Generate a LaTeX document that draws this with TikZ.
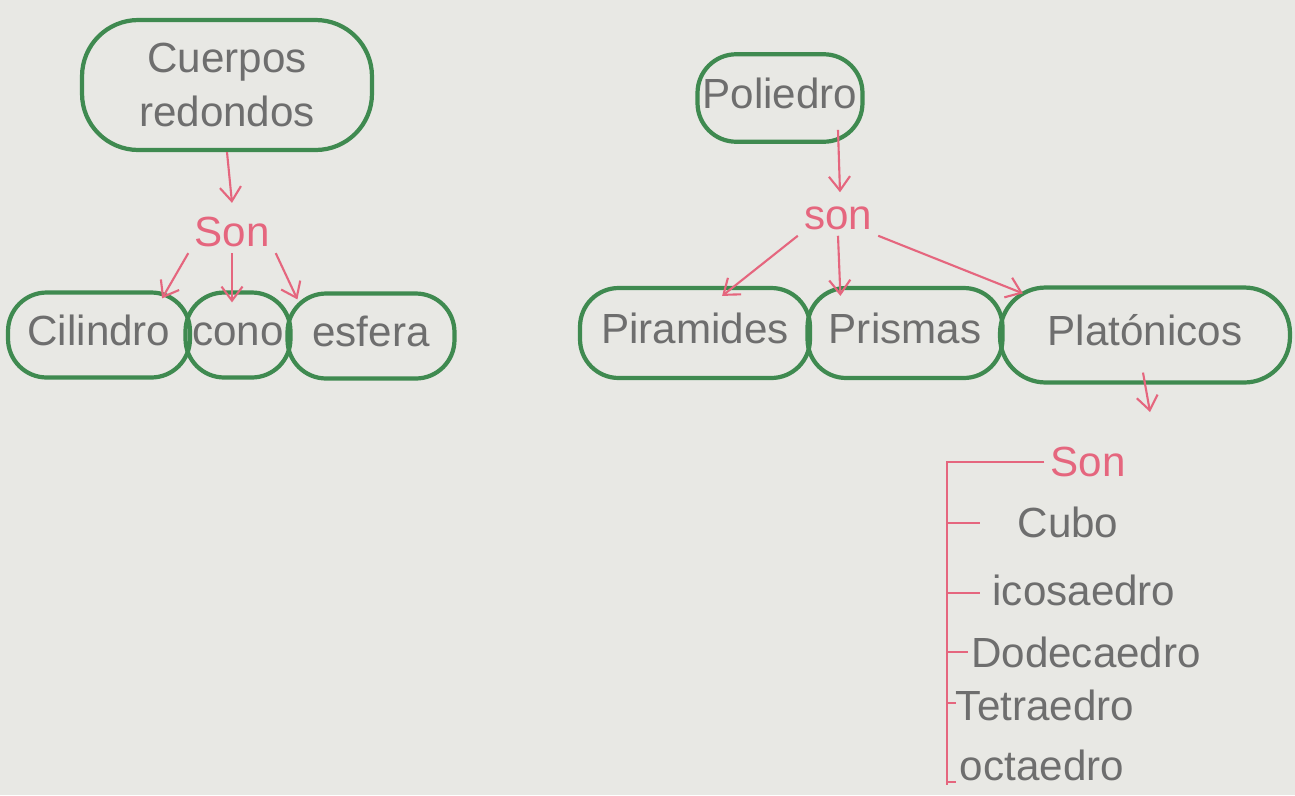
\documentclass[tikz,border=0pt]{standalone}
\usepackage{fontspec}
\setmainfont{Liberation Sans}
\usetikzlibrary{arrows.meta,calc,positioning}
\definecolor{verde}{HTML}{3F8A50}
\definecolor{rosa}{HTML}{E5667E}
\definecolor{lapiz}{HTML}{6E6E6E}
\definecolor{papel}{HTML}{E8E8E4}

\begin{document}
\begin{tikzpicture}[x=0.02cm,y=-0.02cm,
  >={Straight Barb[length=8pt,width=12pt]},
  caja/.style={draw=verde,line width=2.4pt,rounded corners=22pt,text=lapiz,
    font=\fontsize{24}{31}\selectfont,inner sep=2pt,align=center},
  linea/.style={text height=17pt,text depth=5pt},
  enlace/.style={text=rosa,font=\fontsize{24}{28}\selectfont},
  flecha/.style={->,rosa,line width=1.2pt},
  tipo/.style={text=lapiz,font=\fontsize{24}{28}\selectfont}]
\fill[papel] (0,0) rectangle (1295,795);
% cuerpos redondos
\node[caja,rounded corners=32pt,minimum width=5.8cm,minimum height=2.6cm] (cuerpos) at (227,85) {Cuerpos\\redondos};
\node[enlace] (sonA) at (232,232) {Son};
\node[caja,linea,minimum width=3.64cm,minimum height=1.7cm] (cil) at (99,335) {Cilindro};
\node[caja,linea,minimum width=2.1cm,minimum height=1.7cm] (cono) at (238,335) {cono};
\node[caja,linea,minimum width=3.34cm,minimum height=1.7cm] (esf) at (371,336) {esfera};
\draw[flecha] (cuerpos.south) -- ($(sonA.north)+(0,-8)$);
\draw[flecha] (sonA.south west) -- ($(cil.north east)+(-30,8)$);
\draw[flecha] (sonA.south) -- ($(cono.north)+(-6,12)$);
\draw[flecha] (sonA.south east) -- ($(esf.north west)+(12,8)$);
% poliedros
\node[caja,linea,minimum width=3.3cm,minimum height=1.75cm] (poli) at (780,98) {Poliedro};
\node[enlace] (sonB) at (838,218) {son};
\node[caja,linea,minimum width=4.6cm,minimum height=1.8cm] (pir) at (695,333) {Piramides};
\node[caja,linea,minimum width=3.9cm,minimum height=1.8cm] (pri) at (905,333) {Prismas};
\node[caja,linea,rounded corners=26pt,minimum width=5.8cm,minimum height=1.9cm] (plat) at (1145,335) {Platónicos};
\draw[flecha] ($(poli.south)+(58,-14)$) -- ($(sonB.north)+(2,-8)$);
\draw[flecha] (sonB.south west) -- ($(pir.north east)+(-90,10)$);
\draw[flecha] (sonB.south) -- ($(pri.north west)+(35,10)$);
\draw[flecha] (sonB.south east) -- ($(plat.north west)+(25,8)$);
\coordinate (finPlat) at (1150,412);
\draw[flecha] ($(plat.south)+(-2,-12)$) -- (finPlat);
% platonicos
\node[enlace] (sonC) at (1088,462) {Son};
\node[tipo] (cubo) at (1068,522) {Cubo};
\node[tipo] (ico) at (1084,590) {icosaedro};
\node[tipo] (dode) at (1086,652) {Dodecaedro};
\node[tipo] (tetra) at (1045,705) {Tetraedro};
\node[tipo] (octa) at (1042,765) {octaedro};
\draw[rosa,line width=1.6pt] (sonC.west) -- (947,462) -- (947,785);
\draw[rosa,line width=1.6pt] (947,523) -- (980,523);
\draw[rosa,line width=1.6pt] (947,593) -- (980,593);
\draw[rosa,line width=1.6pt] (947,652) -- (968,652);
\draw[rosa,line width=1.6pt] (947,703) -- (956,703);
\draw[rosa,line width=1.6pt] (947,782) -- (956,782);
\end{tikzpicture}
\end{document}
